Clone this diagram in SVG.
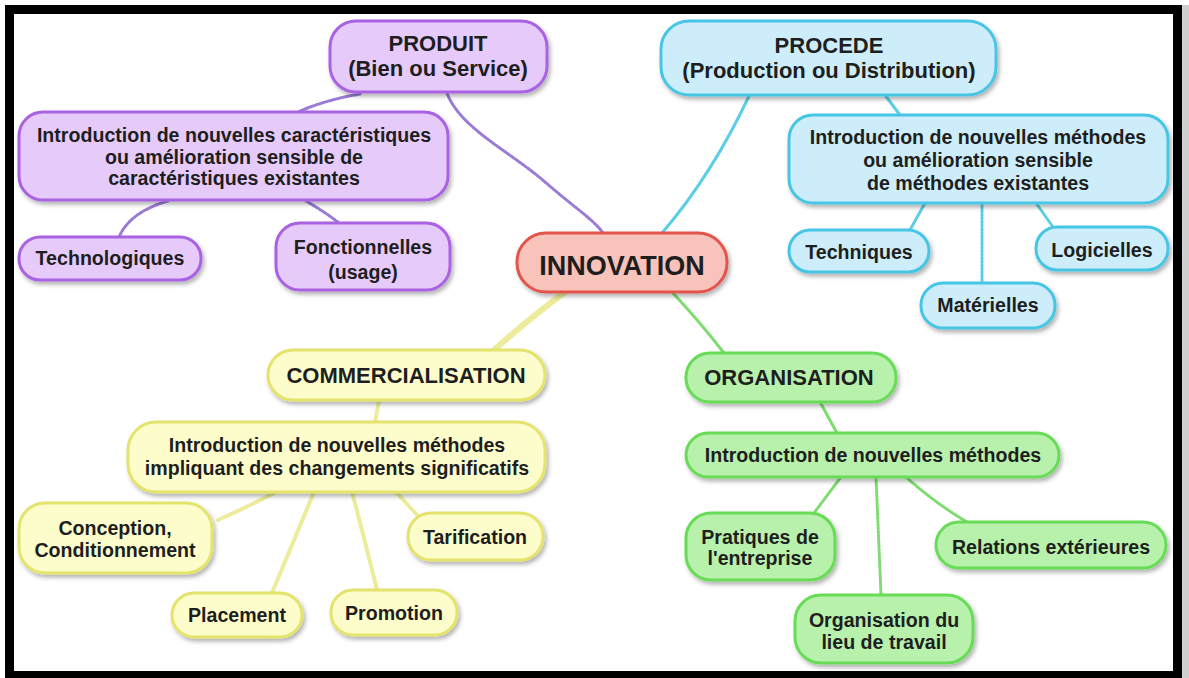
<svg xmlns="http://www.w3.org/2000/svg" width="1189" height="678" viewBox="0 0 1189 678">
<defs>
<filter id="sh" x="-10%" y="-20%" width="130%" height="150%">
<feDropShadow dx="2" dy="3" stdDeviation="2" flood-color="#000" flood-opacity="0.3"/>
</filter>
<style>
text{font-family:"Liberation Sans",Arial,sans-serif;font-weight:bold;fill:#1e1e1e;text-anchor:middle;font-size:19.6px}
.t{font-size:22px}
.big{font-size:27px}
.n rect{stroke-width:3;filter:url(#sh)}
.pu rect{fill:#e6cbfa;stroke:#a962e2}
.cy rect{fill:#ccedf9;stroke:#46c5e5}
.re rect{fill:#f8c3bb;stroke:#e2554d}
.ye rect{fill:#fdfdcc;stroke:#e4e36c}
.gr rect{fill:#b7f1ac;stroke:#68dc57}
.c path{fill:none;stroke-linecap:round}
.cp{stroke:#9a7bd6;stroke-width:3;stroke-dasharray:2 1.6}
.cc{stroke:#5ccfe6;stroke-width:3}
.ccd{stroke:#5ccfe6;stroke-width:3;stroke-dasharray:2 1.6}
.cg{stroke:#7fdc70;stroke-width:3}
.cgd{stroke:#7fdc70;stroke-width:3;stroke-dasharray:2 1.6}
.cy2{stroke:#ecec9c;stroke-width:4}
</style>
</defs>
<rect x="0" y="0" width="1189" height="678" fill="#fff"/>
<rect x="1182" y="5" width="7" height="673" fill="#cfcfcf"/>
<rect x="9.5" y="9.5" width="1168" height="666" fill="#fff" stroke="#000" stroke-width="9"/>

<g id="connectors" class="c">
<path class="cp" d="M447,93 C460,128 508,150 545,182 C575,208 594,220 603,233"/>
<path class="cp" d="M360,94 Q325,100 298,112"/>
<path class="cp" d="M168,201 Q130,212 119,237"/>
<path class="cp" d="M306,201 Q325,212 339,223"/>
<path class="cc" d="M750,94 Q712,175 662,233"/>
<path class="cc" d="M885,95 L900,115"/>
<path class="cc" d="M925,203 L910,230"/>
<path class="ccd" d="M982,203 L982,283"/>
<path class="cc" d="M1036,203 L1053,227"/>
<path class="cy2" style="stroke-width:6" d="M565,292 Q530,318 494,350"/>
<path class="cy2" d="M379,400 L375,422"/>
<path class="cy2" d="M276,492 Q245,508 218,520"/>
<path class="cy2" d="M314,492 Q292,545 272,593"/>
<path class="cy2" d="M352,492 Q366,545 377,590"/>
<path class="cy2" d="M396,492 L419,517"/>
<path class="cg" d="M672,292 Q700,322 724,353"/>
<path class="cg" d="M820,402 L837,433"/>
<path class="cgd" d="M841,477 L814,513"/>
<path class="cgd" d="M876,477 L881,595"/>
<path class="cgd" d="M906,477 Q935,503 967,522"/>
</g>

<g id="produit" class="n pu"><rect x="330" y="21" width="217" height="71" rx="26"/><text class="t" x="438" y="51">PRODUIT</text><text class="t" x="438" y="76">(Bien ou Service)</text></g>
<g id="procede" class="n cy"><rect x="661" y="21" width="335" height="74" rx="28"/><text class="t" x="829" y="53">PROCEDE</text><text class="t" x="829" y="78">(Production ou Distribution)</text></g>
<g id="produit-desc" class="n pu"><rect x="19" y="112" width="429" height="88" rx="24"/><text x="234" y="142">Introduction de nouvelles caractéristiques</text><text x="234" y="164">ou amélioration sensible de</text><text x="234" y="185">caractéristiques existantes</text></g>
<g id="technologiques" class="n pu"><rect x="19" y="237" width="182" height="43" rx="21"/><text x="110" y="265">Technologiques</text></g>
<g id="fonctionnelles" class="n pu"><rect x="276" y="223" width="174" height="67" rx="24"/><text x="363" y="254">Fonctionnelles</text><text x="363" y="279">(usage)</text></g>
<g id="innovation" class="n re"><rect x="517" y="233" width="210" height="59" rx="29"/><text class="big" x="622" y="275">INNOVATION</text></g>
<g id="procede-desc" class="n cy"><rect x="789" y="115" width="379" height="88" rx="24"/><text x="978" y="144">Introduction de nouvelles méthodes</text><text x="978" y="167">ou amélioration sensible</text><text x="978" y="190">de méthodes existantes</text></g>
<g id="techniques" class="n cy"><rect x="789" y="230" width="140" height="42" rx="21"/><text x="859" y="259">Techniques</text></g>
<g id="logicielles" class="n cy"><rect x="1036" y="227" width="132" height="43" rx="21"/><text x="1102" y="257">Logicielles</text></g>
<g id="materielles" class="n cy"><rect x="921" y="283" width="134" height="45" rx="22"/><text x="988" y="312">Matérielles</text></g>
<g id="commercialisation" class="n ye"><rect x="268" y="350" width="277" height="50" rx="25"/><text class="t" x="406" y="383">COMMERCIALISATION</text></g>
<g id="commercialisation-desc" class="n ye"><rect x="128" y="422" width="417" height="70" rx="28"/><text x="337" y="452">Introduction de nouvelles méthodes</text><text x="337" y="475">impliquant des changements significatifs</text></g>
<g id="conception" class="n ye"><rect x="19" y="503" width="193" height="70" rx="26"/><text x="115" y="535">Conception,</text><text x="115" y="557">Conditionnement</text></g>
<g id="tarification" class="n ye"><rect x="408" y="513" width="135" height="47" rx="23"/><text x="475" y="544">Tarification</text></g>
<g id="placement" class="n ye"><rect x="172" y="593" width="130" height="44" rx="22"/><text x="237" y="622">Placement</text></g>
<g id="promotion" class="n ye"><rect x="331" y="590" width="126" height="45" rx="22"/><text x="394" y="620">Promotion</text></g>
<g id="organisation" class="n gr"><rect x="686" y="353" width="210" height="49" rx="24"/><text class="t" x="789" y="385">ORGANISATION</text></g>
<g id="organisation-desc" class="n gr"><rect x="686" y="433" width="373" height="44" rx="22"/><text x="873" y="462">Introduction de nouvelles méthodes</text></g>
<g id="pratiques" class="n gr"><rect x="686" y="513" width="149" height="67" rx="25"/><text x="760" y="544">Pratiques de</text><text x="760" y="565">l'entreprise</text></g>
<g id="relations" class="n gr"><rect x="936" y="522" width="230" height="46" rx="23"/><text x="1051" y="554">Relations extérieures</text></g>
<g id="lieu" class="n gr"><rect x="795" y="595" width="178" height="68" rx="26"/><text x="884" y="627">Organisation du</text><text x="884" y="649">lieu de travail</text></g>
</svg>
